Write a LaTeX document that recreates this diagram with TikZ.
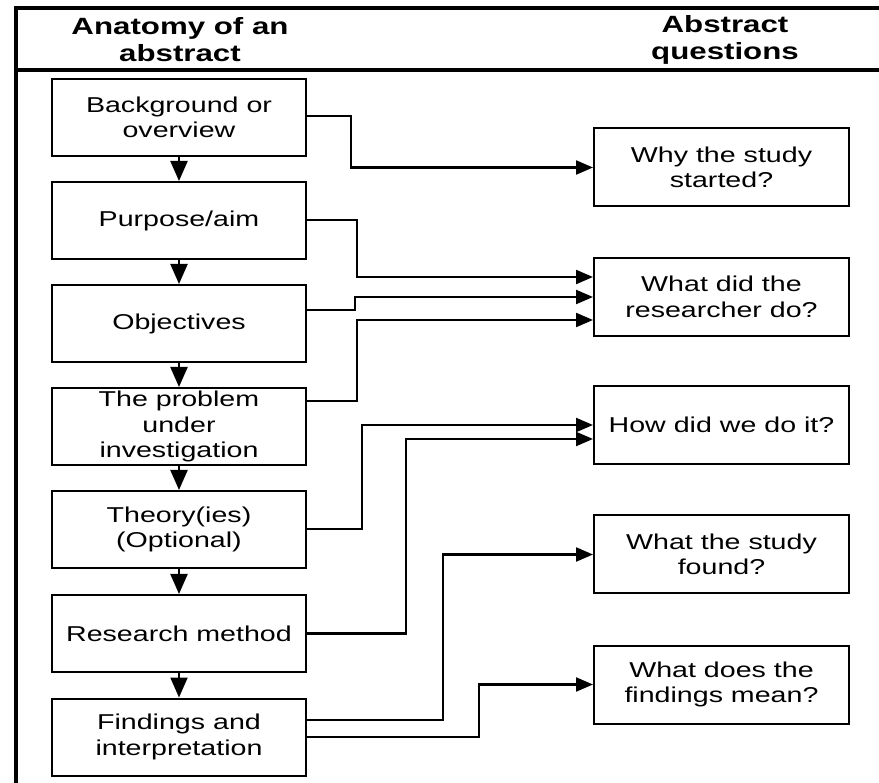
\documentclass[tikz,border=0pt]{standalone}
\usepackage{fontspec}
\setmainfont{Liberation Sans}[FakeStretch=1.33]
\usetikzlibrary{arrows.meta}
\begin{document}
\begin{tikzpicture}[x=1pt,y=-1pt,
  frameline/.style={line width=4pt},
  lbox/.style={draw, line width=2pt, minimum width=254pt, minimum height=77pt, align=center, inner sep=0pt, font=\fontsize{21.5}{25.5}\selectfont},
  rbox/.style={draw, line width=2pt, minimum width=255pt, minimum height=78pt, align=center, inner sep=0pt, font=\fontsize{21.5}{25.5}\selectfont},
  hdr/.style={align=center, inner sep=0pt, font=\fontsize{23.5}{27}\selectfont\bfseries},
  conn/.style={line width=2.2pt, -{Triangle[length=17pt,width=14pt]}},
  down/.style={line width=2.2pt, -{Triangle[length=20pt,width=17pt]}}
]
\useasboundingbox (0,0) rectangle (879,783);
% frame
\draw[frameline] (15.5,783) -- (15.5,8.5) -- (879,8.5);
\draw[frameline] (15.5,70) -- (879,70);
\node[hdr] (h1) at (180,40) {Anatomy of an\\abstract};
\node[hdr] (h2) at (725,40) {Abstract\\questions};
% left column
\node[lbox] (b1) at (179,117.5) {Background or\\overview};
\node[lbox] (b2) at (179,220.5) {Purpose/aim};
\node[lbox] (b3) at (179,323.5) {Objectives};
\node[lbox] (b4) at (179,426.5) {The problem\\under\\investigation};
\node[lbox] (b5) at (179,529.5) {Theory(ies)\\(Optional)};
\node[lbox] (b6) at (179,633.5) {Research method};
\node[lbox] (b7) at (179,737) {Findings and\\interpretation};
% right column
\node[rbox] (q1) at (721.5,167.5) {Why the study\\started?};
\node[rbox] (q2) at (721.5,297) {What did the\\researcher do?};
\node[rbox] (q3) at (721.5,425) {How did we do it?};
\node[rbox] (q4) at (721.5,554.5) {What the study\\found?};
\node[rbox] (q5) at (721.5,684.5) {What does the\\findings mean?};
% vertical arrows
\foreach \a/\b in {b1/b2,b2/b3,b3/b4,b4/b5,b5/b6,b6/b7}
  \draw[down] (\a.south) -- (\b.north);
% connectors
\draw[conn] (b1.east |- 0,116) -- (351,116) |- (q1.west);
\draw[conn] (b2.east |- 0,220) -- (357,220) |- (q2.west |- 0,277);
\draw[conn] (b3.east |- 0,310) -- (355,310) |- (q2.west);
\draw[conn] (b4.east |- 0,401) -- (357,401) |- (q2.west |- 0,320);
\draw[conn] (b5.east |- 0,529) -- (362,529) |- (q3.west);
\draw[conn] (b6.east) -- (406,633.5) |- (q3.west |- 0,439);
\draw[conn] (b7.east |- 0,720) -- (443,720) |- (q4.west);
\draw[conn] (b7.east) -- (479,737) |- (q5.west);
\end{tikzpicture}
\end{document}
